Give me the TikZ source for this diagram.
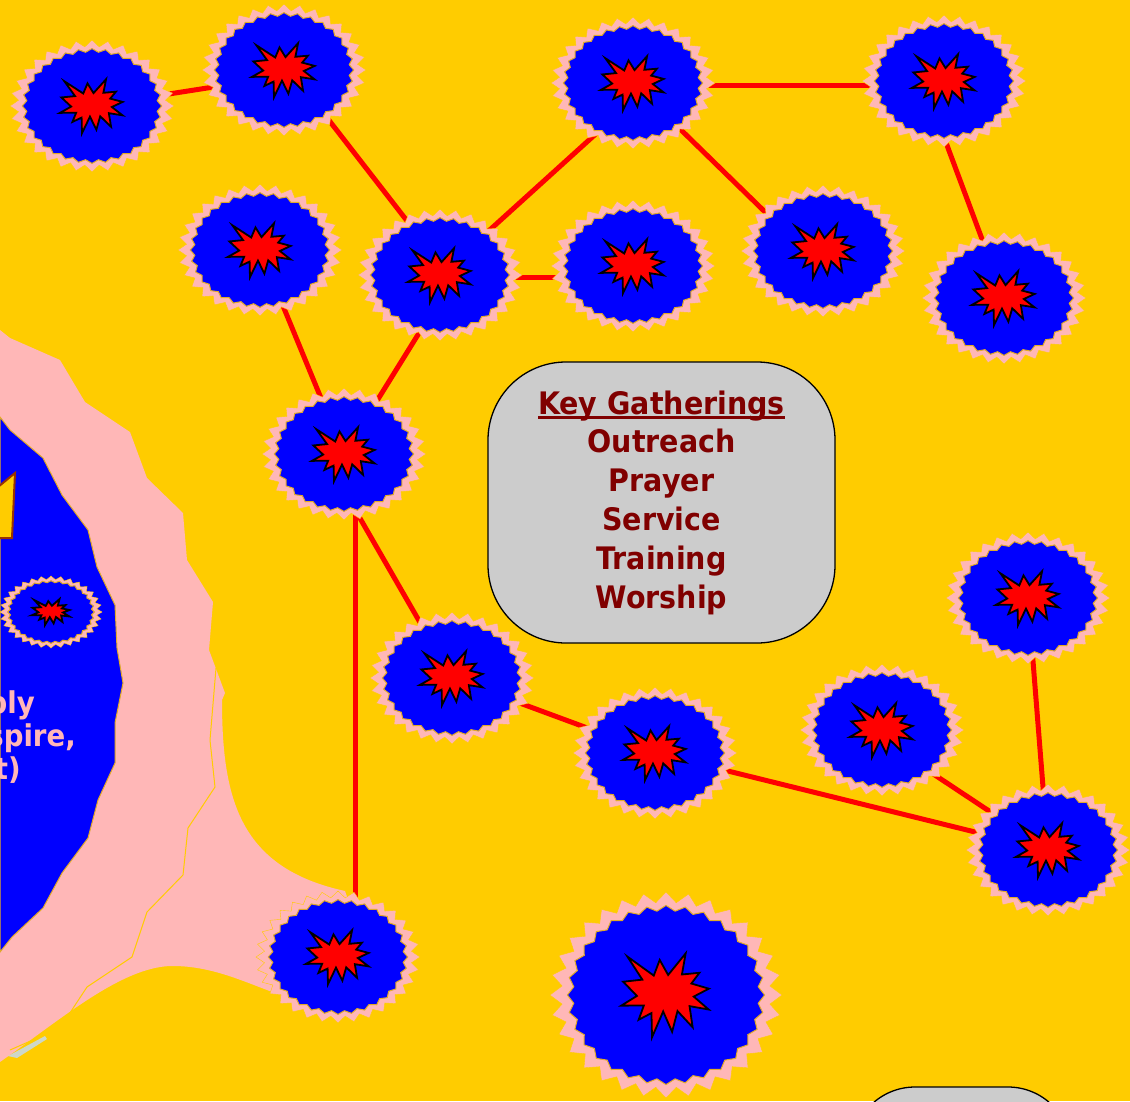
\documentclass[tikz,border=0pt]{standalone}
\usepackage{fontspec}
\newfontfamily\tfont[FakeStretch=0.92]{DejaVu Sans}
\usetikzlibrary{calc}
\definecolor{bgy}{RGB}{255,204,0}
\definecolor{pinkc}{RGB}{255,183,183}
\definecolor{blu}{RGB}{0,0,255}
\definecolor{darkred}{RGB}{128,0,0}
\definecolor{goldline}{RGB}{225,170,40}
\definecolor{boxgray}{RGB}{204,204,204}
\definecolor{tribord}{RGB}{153,51,0}
\definecolor{sliver}{RGB}{205,215,200}
\tikzset{
  pinkseal/.style={fill=pinkc, draw=bgy, line width=0.4pt},
  blueseal/.style={fill=blu, draw=goldline, line width=1pt},
  starsty/.style={fill=red, draw=black, line width=1.8pt, line join=miter},
  edge/.style={draw=red, line width=5pt},
  boxsty/.style={fill=boxgray, draw=black, line width=1.3pt},
  keytext/.style={text=darkred, font=\tfont\bfseries\fontsize{31}{38.8}\selectfont, align=center},
  sidetext/.style={text=pinkc, inner sep=0pt, font=\tfont\bfseries\fontsize{30}{33}\selectfont}
}
\newcommand\mkzig[5]{\path[#5, shift={(#1)}] (0:#2 and #3) \foreach \k in {1,...,63}{ -- ({\k*5.625}:{(#2)*(1-mod(\k,2)*#4)} and {(#3)*(1-mod(\k,2)*#4)}) } -- cycle;}
\newcommand\mkstar[3]{\path[starsty, shift={(#1)}, xscale=#2, yscale=#3, rotate=-6] (0,-0.2315) -- (0.1723,-0.5) -- (0.1553,-0.2535) -- (0.3509,-0.2937) -- (0.2732,-0.1613) -- (0.4767,-0.1233) -- (0.3151,-0.015) -- (0.5,0.1153) -- (0.2795,0.0992) -- (0.34,0.3377) -- (0.1491,0.1693) -- (0.1133,0.4138) -- (-0.0124,0.1914) -- (-0.1072,0.5) -- (-0.1428,0.2235) -- (-0.2795,0.3156) -- (-0.2376,0.1452) -- (-0.4938,0.1753) -- (-0.3277,0.0451) -- (-0.5,-0.1012) -- (-0.2858,-0.1474) -- (-0.4829,-0.3938) -- (-0.1615,-0.2074) -- (-0.1133,-0.3938) -- cycle;}
\newcommand\mkseal[5]{%
  \mkzig{#1}{#2}{#3}{0.1}{pinkseal}
  \mkzig{#1}{0.85*#2}{0.87*#3}{0.06}{blueseal}
  \mkstar{#1}{#4}{#5}}
\newcommand\keyul[1]{\setbox0=\hbox{#1}\rlap{\rule[-4.5pt]{\wd0}{2.6pt}}\box0}
\begin{document}
\begin{tikzpicture}[x=1pt, y=-1pt]
\useasboundingbox (0,0) rectangle (1130,1101);
\clip (0,0) rectangle (1130,1101);
\fill[bgy] (0,0) rectangle (1130,1101);

% left pink band
\fill[pinkc] (0,330) -- (10,338) -- (60,360) -- (85,402) -- (130,432) -- (147,478) -- (183,513)
  -- (187,560) -- (213,602) -- (209,650) -- (225,693) -- (222,700)
  .. controls (222,800) and (240,868) .. (345,891) -- (350,905) -- (368,915) -- (395,957)
  -- (368,999) -- (318,1006)
  .. controls (265,995) and (225,965) .. (170,966)
  .. controls (120,968) and (60,1020) .. (0,1062) -- cycle;
\draw[bgy, line width=1pt] (216,668) -- (210,740) -- (215,787) -- (188,828) -- (183,875) -- (147,912)
  -- (132,957) -- (87,987) -- (60,1028) -- (10,1050);
\fill[sliver] (8,1056) -- (45,1036) -- (47,1039) -- (17,1058) -- cycle;

% blue region
\path[fill=blu, draw=goldline, line width=1pt] (0,417) -- (10,430) -- (43,458) -- (62,495) -- (88,530) -- (97,567)
  -- (115,605) -- (117,648) -- (123,683) -- (115,723) -- (115,763) -- (98,800) -- (88,838)
  -- (62,873) -- (43,908) -- (12,937) -- (0,952) -- cycle;
\path[fill=bgy, draw=tribord, line width=2pt] (-2,487) -- (15,473) -- (12,538) -- (-2,538) -- cycle;

\node[sidetext, anchor=base east] (t1) at (35,713) {ply};
\node[sidetext, anchor=base east] (t2) at (76,746) {spire,};
\node[sidetext, anchor=base east] (t3) at (21,779) {t)};

% node centres
\coordinate (A) at (92,106);
\coordinate (B) at (284,70);
\coordinate (C) at (633,83);
\coordinate (D) at (944,81);
\coordinate (E) at (260,250);
\coordinate (F) at (440,275);
\coordinate (G) at (633,266);
\coordinate (H) at (823,251);
\coordinate (I) at (1004,298);
\coordinate (J) at (344,454);
\coordinate (K) at (1028,598);
\coordinate (L) at (452,678);
\coordinate (M) at (882,730);
\coordinate (N) at (655,753);
\coordinate (O) at (1048,850);
\coordinate (P) at (338,957);
\coordinate (Q) at (666,995);
\coordinate (S) at (51,612);

\mkseal{S}{51}{36}{38}{27}

% connectors
\draw[edge] (A) -- ([yshift=-6pt]B.center);
\draw[edge] ([xshift=6pt]B.center) -- ([xshift=9pt]F.center);
\draw[edge] (F) -- ([xshift=19pt]C.center);
\draw[edge] ([yshift=-2pt]C.center) -- ([yshift=-4pt]D.center);
\draw[edge] (C) -- ([xshift=-18pt]H.center);
\draw[edge] ([xshift=-21pt]D.center) -- (I);
\draw[edge] ([yshift=-2pt]F.center) -- ([yshift=-11pt]G.center);
\draw[edge] (E) -- (J);
\draw[edge] ([xshift=15pt]F.center) -- (J);
\draw[edge] ([xshift=11pt]J.center) -- ([xshift=17pt]P.center);
\draw[edge] ([xshift=-21pt]J.center) -- (L);
\draw[edge] (L) -- (N);
\draw[edge] (N) -- (O);
\draw[edge] ([yshift=-10pt]M.center) -- (O);
\draw[edge] (K) -- (O);

% seals
\foreach \n in {A,B,C,D,E,F,G,H,I,J,K,L,M,N,O,P}{\mkseal{\n}{82}{66}{63}{56}}
\mkseal{Q}{116}{103}{88}{87}

% key box
\node[boxsty, rounded corners=78pt, minimum width=347pt, minimum height=281pt, inner sep=0pt, keytext] (KG) at (661.5,502.5)
  {\keyul{Key Gatherings}\\Outreach\\Prayer\\Service\\Training\\Worship};
\draw[boxsty, rounded corners=63pt] (852,1087) rectangle (1071,1320);
\end{tikzpicture}
\end{document}
